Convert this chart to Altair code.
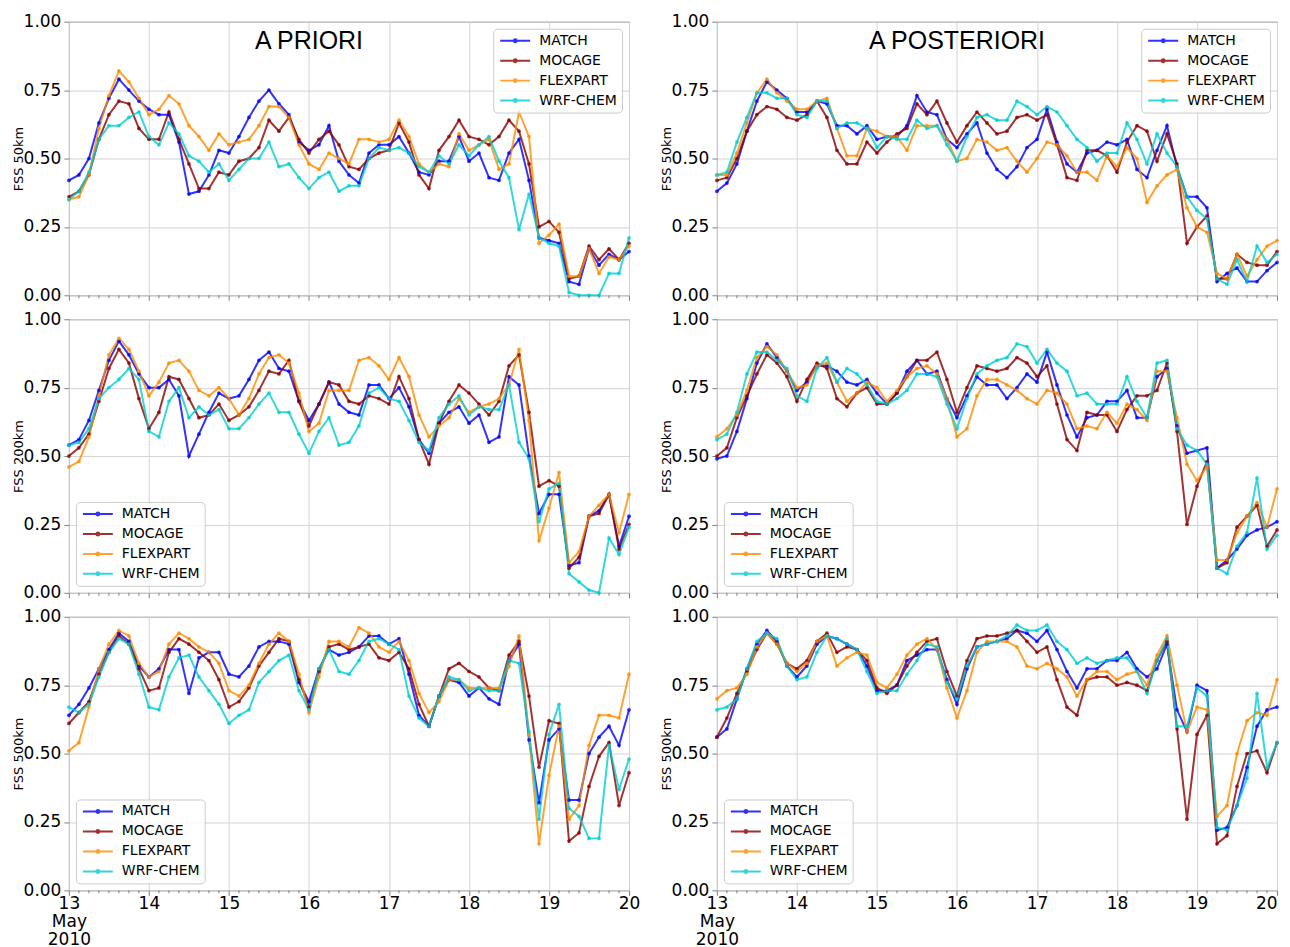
import altair as alt
import pandas as pd

MODELS = ["MATCH", "MOCAGE", "FLEXPART", "WRF-CHEM"]
COLORS = ["#0000ff", "#8b0000", "#ff8c00", "#00ced1"]
DAYS = list(range(13, 21))
TIMES = list(pd.date_range("2010-05-13 00:00", "2010-05-20 00:00", freq="3h"))

# ---- FSS 50km, A PRIORI ----
P50_PRI_MATCH = [0.42,0.44,0.50,0.63,0.72,0.79,0.75,0.71,0.68,0.66, 0.66,0.56,0.37,0.38,0.44,0.53,0.52,0.58,0.65,0.71,
                 0.75,0.70,0.66,0.56,0.53,0.55,0.62,0.49,0.44,0.41, 0.52,0.55,0.55,0.58,0.52,0.45,0.44,0.49,0.49,0.58,
                 0.49,0.52,0.43,0.42,0.52,0.57,0.42,0.21,0.20,0.19, 0.05,0.04,0.17,0.11,0.15,0.13,0.16]
P50_PRI_MOCAGE = [0.36,0.38,0.44,0.57,0.66,0.71,0.70,0.61,0.57,0.57, 0.67,0.57,0.48,0.39,0.39,0.45,0.44,0.49,0.50,0.54,
                  0.64,0.60,0.65,0.57,0.52,0.57,0.60,0.55,0.47,0.46, 0.50,0.52,0.53,0.63,0.56,0.44,0.39,0.53,0.58,0.64,
                  0.58,0.57,0.55,0.58,0.64,0.60,0.48,0.25,0.27,0.23, 0.06,0.07,0.18,0.13,0.17,0.13,0.19]
P50_PRI_FLEXPART = [0.35,0.36,0.44,0.61,0.73,0.82,0.78,0.72,0.66,0.68, 0.73,0.70,0.62,0.58,0.53,0.59,0.55,0.56,0.57,0.62,
                    0.69,0.69,0.65,0.55,0.48,0.46,0.52,0.50,0.48,0.57, 0.57,0.56,0.57,0.64,0.58,0.48,0.45,0.48,0.47,0.59,
                    0.53,0.55,0.57,0.46,0.48,0.67,0.58,0.19,0.22,0.26, 0.07,0.07,0.17,0.08,0.14,0.13,0.18]
P50_PRI_WRF = [0.35,0.38,0.45,0.57,0.62,0.62,0.65,0.67,0.58,0.55, 0.63,0.59,0.51,0.49,0.45,0.48,0.42,0.46,0.50,0.50,
               0.56,0.47,0.48,0.43,0.39,0.43,0.45,0.38,0.40,0.40, 0.50,0.54,0.53,0.54,0.52,0.47,0.45,0.51,0.48,0.55,
               0.51,0.55,0.58,0.49,0.43,0.24,0.37,0.21,0.19,0.18, 0.01,0.00,0.00,0.00,0.08,0.08,0.21]

# ---- FSS 50km, A POSTERIORI ----
P50_POST_MATCH = [0.38,0.41,0.48,0.60,0.71,0.78,0.75,0.72,0.67,0.67, 0.71,0.70,0.62,0.62,0.59,0.62,0.57,0.58,0.58,0.62,
                  0.73,0.67,0.66,0.57,0.54,0.59,0.63,0.52,0.46,0.43, 0.47,0.54,0.57,0.68,0.56,0.48,0.45,0.52,0.53,0.56,
                  0.55,0.57,0.46,0.43,0.53,0.62,0.47,0.36,0.36,0.32, 0.05,0.08,0.10,0.05,0.05,0.09,0.12]
P50_POST_MOCAGE = [0.42,0.43,0.50,0.60,0.66,0.69,0.68,0.65,0.64,0.66, 0.71,0.65,0.53,0.48,0.48,0.56,0.52,0.56,0.59,0.61,
                   0.70,0.66,0.71,0.63,0.56,0.62,0.67,0.63,0.59,0.60, 0.65,0.66,0.64,0.66,0.55,0.43,0.42,0.53,0.53,0.51,
                   0.45,0.56,0.62,0.60,0.49,0.59,0.48,0.19,0.25,0.29, 0.06,0.06,0.15,0.12,0.11,0.11,0.16]
P50_POST_FLEXPART = [0.44,0.44,0.52,0.63,0.74,0.79,0.74,0.71,0.68,0.68, 0.71,0.72,0.61,0.51,0.51,0.61,0.60,0.58,0.58,0.53,
                     0.62,0.62,0.62,0.57,0.49,0.50,0.57,0.56,0.53,0.54, 0.49,0.45,0.50,0.56,0.55,0.51,0.45,0.45,0.42,0.51,
                     0.47,0.54,0.50,0.34,0.40,0.44,0.46,0.32,0.25,0.23, 0.08,0.06,0.15,0.07,0.13,0.18,0.20]
P50_POST_WRF = [0.44,0.45,0.56,0.65,0.74,0.74,0.72,0.72,0.66,0.65, 0.71,0.71,0.61,0.63,0.63,0.61,0.54,0.58,0.57,0.57,
                0.64,0.61,0.62,0.55,0.49,0.58,0.65,0.66,0.64,0.64, 0.71,0.69,0.66,0.69,0.67,0.62,0.57,0.54,0.49,0.52,
                0.52,0.63,0.57,0.48,0.59,0.52,0.47,0.36,0.31,0.28, 0.06,0.04,0.13,0.05,0.18,0.12,0.15]

# ---- FSS 200km, A PRIORI ----
P200_PRI_MATCH = [0.54,0.56,0.63,0.74,0.85,0.92,0.87,0.80,0.75,0.75, 0.78,0.72,0.50,0.58,0.66,0.73,0.71,0.72,0.78,0.85,
                  0.88,0.82,0.81,0.70,0.63,0.69,0.77,0.69,0.66,0.65, 0.76,0.76,0.71,0.75,0.68,0.56,0.51,0.62,0.66,0.68,
                  0.62,0.65,0.55,0.57,0.79,0.76,0.50,0.29,0.36,0.36, 0.10,0.11,0.28,0.30,0.36,0.17,0.28]
P200_PRI_MOCAGE = [0.50,0.53,0.58,0.70,0.82,0.89,0.84,0.71,0.60,0.66, 0.79,0.78,0.71,0.64,0.65,0.69,0.63,0.65,0.68,0.74,
                   0.81,0.80,0.85,0.70,0.61,0.69,0.77,0.76,0.70,0.69, 0.72,0.71,0.69,0.79,0.71,0.56,0.47,0.62,0.70,0.76,
                   0.73,0.69,0.65,0.70,0.83,0.87,0.66,0.39,0.41,0.39, 0.09,0.13,0.28,0.29,0.36,0.16,0.25]
P200_PRI_FLEXPART = [0.46,0.48,0.57,0.72,0.87,0.93,0.89,0.81,0.72,0.77, 0.84,0.85,0.81,0.74,0.72,0.75,0.71,0.65,0.71,0.80,
                     0.86,0.87,0.84,0.73,0.59,0.62,0.74,0.74,0.74,0.85, 0.86,0.83,0.78,0.86,0.79,0.65,0.57,0.61,0.64,0.71,
                     0.66,0.68,0.69,0.71,0.76,0.89,0.63,0.19,0.31,0.44, 0.11,0.15,0.28,0.32,0.36,0.22,0.36]
P200_PRI_WRF = [0.54,0.55,0.60,0.71,0.75,0.78,0.82,0.78,0.59,0.57, 0.70,0.75,0.64,0.68,0.65,0.67,0.60,0.60,0.64,0.69,
                0.73,0.66,0.66,0.58,0.51,0.59,0.64,0.54,0.55,0.61, 0.73,0.75,0.71,0.70,0.63,0.55,0.52,0.64,0.69,0.72,
                0.65,0.68,0.67,0.67,0.76,0.55,0.49,0.26,0.38,0.40, 0.07,0.04,0.01,0.00,0.20,0.14,0.24]

# ---- FSS 200km, A POSTERIORI ----
P200_POST_MATCH = [0.49,0.50,0.59,0.71,0.84,0.91,0.86,0.81,0.74,0.77, 0.83,0.83,0.81,0.77,0.76,0.78,0.73,0.69,0.73,0.81,
                   0.85,0.80,0.81,0.71,0.64,0.72,0.79,0.76,0.76,0.71, 0.75,0.80,0.77,0.88,0.76,0.65,0.57,0.64,0.65,0.70,
                   0.70,0.74,0.64,0.64,0.79,0.82,0.61,0.51,0.52,0.53, 0.09,0.12,0.16,0.21,0.23,0.24,0.26]
P200_POST_MOCAGE = [0.50,0.53,0.64,0.72,0.80,0.87,0.84,0.79,0.70,0.78, 0.84,0.82,0.71,0.68,0.73,0.75,0.69,0.69,0.73,0.79,
                    0.85,0.85,0.88,0.78,0.66,0.75,0.83,0.82,0.81,0.82, 0.86,0.84,0.79,0.83,0.69,0.56,0.52,0.66,0.65,0.65,
                    0.59,0.67,0.72,0.72,0.74,0.84,0.59,0.25,0.39,0.48, 0.09,0.11,0.24,0.28,0.32,0.17,0.23]
P200_POST_FLEXPART = [0.57,0.60,0.65,0.74,0.86,0.90,0.87,0.81,0.75,0.76, 0.83,0.84,0.77,0.70,0.73,0.77,0.75,0.70,0.74,0.79,
                      0.82,0.83,0.80,0.71,0.57,0.60,0.72,0.78,0.78,0.76, 0.74,0.71,0.69,0.74,0.73,0.69,0.60,0.61,0.60,0.66,
                      0.62,0.69,0.67,0.63,0.81,0.81,0.64,0.47,0.41,0.46, 0.12,0.12,0.22,0.28,0.33,0.24,0.38]
P200_POST_WRF = [0.56,0.58,0.66,0.80,0.88,0.88,0.85,0.82,0.72,0.70, 0.82,0.86,0.77,0.82,0.80,0.76,0.70,0.69,0.71,0.74,
                 0.80,0.80,0.79,0.69,0.60,0.71,0.80,0.83,0.85,0.86, 0.91,0.90,0.84,0.89,0.84,0.81,0.72,0.73,0.69,0.69,
                 0.69,0.79,0.70,0.64,0.84,0.85,0.60,0.54,0.52,0.47, 0.09,0.07,0.17,0.22,0.42,0.16,0.21]

# ---- FSS 500km, A PRIORI ----
P500_PRI_MATCH = [0.64,0.68,0.74,0.81,0.88,0.94,0.91,0.82,0.78,0.81, 0.88,0.88,0.72,0.85,0.87,0.87,0.79,0.78,0.82,0.89,
                  0.91,0.91,0.90,0.76,0.69,0.81,0.88,0.86,0.87,0.89, 0.93,0.93,0.90,0.92,0.79,0.64,0.60,0.71,0.77,0.76,
                  0.71,0.74,0.70,0.68,0.84,0.90,0.55,0.32,0.55,0.59, 0.33,0.33,0.50,0.56,0.60,0.53,0.66]
P500_PRI_MOCAGE = [0.61,0.65,0.69,0.79,0.87,0.93,0.90,0.81,0.73,0.74, 0.87,0.92,0.90,0.87,0.84,0.77,0.67,0.69,0.74,0.82,
                   0.87,0.92,0.91,0.77,0.67,0.80,0.89,0.90,0.88,0.89, 0.90,0.85,0.84,0.87,0.81,0.68,0.60,0.71,0.81,0.83,
                   0.80,0.78,0.74,0.73,0.86,0.91,0.71,0.45,0.62,0.61, 0.18,0.21,0.38,0.49,0.54,0.31,0.43]
P500_PRI_FLEXPART = [0.51,0.54,0.67,0.81,0.90,0.95,0.93,0.83,0.78,0.80, 0.90,0.94,0.92,0.89,0.87,0.83,0.73,0.71,0.75,0.83,
                     0.90,0.94,0.91,0.79,0.65,0.78,0.91,0.91,0.89,0.96, 0.94,0.89,0.87,0.91,0.84,0.72,0.65,0.69,0.77,0.77,
                     0.74,0.74,0.74,0.74,0.82,0.93,0.57,0.17,0.42,0.60, 0.26,0.31,0.53,0.64,0.64,0.63,0.79]
P500_PRI_WRF = [0.67,0.65,0.68,0.78,0.87,0.92,0.90,0.79,0.67,0.66, 0.78,0.85,0.86,0.78,0.73,0.68,0.61,0.64,0.66,0.76,
                0.80,0.84,0.86,0.73,0.66,0.81,0.88,0.80,0.79,0.84, 0.91,0.92,0.90,0.88,0.71,0.63,0.60,0.71,0.78,0.77,
                0.73,0.74,0.73,0.73,0.84,0.83,0.58,0.26,0.57,0.68, 0.30,0.27,0.19,0.19,0.53,0.37,0.48]

# ---- FSS 500km, A POSTERIORI ----
P500_POST_MATCH = [0.56,0.59,0.70,0.81,0.90,0.95,0.91,0.82,0.78,0.82, 0.90,0.93,0.92,0.90,0.88,0.82,0.73,0.73,0.75,0.84,
                   0.86,0.88,0.88,0.77,0.68,0.81,0.89,0.90,0.91,0.92, 0.95,0.94,0.91,0.95,0.88,0.80,0.74,0.81,0.81,0.84,
                   0.84,0.87,0.81,0.78,0.81,0.90,0.66,0.58,0.75,0.73, 0.22,0.23,0.31,0.45,0.60,0.66,0.67]
P500_POST_MOCAGE = [0.56,0.63,0.72,0.80,0.88,0.94,0.90,0.83,0.81,0.84, 0.91,0.94,0.87,0.89,0.88,0.84,0.74,0.72,0.75,0.82,
                    0.87,0.91,0.92,0.80,0.71,0.84,0.92,0.93,0.93,0.94, 0.95,0.91,0.87,0.89,0.77,0.67,0.64,0.77,0.78,0.78,
                    0.75,0.76,0.75,0.73,0.84,0.91,0.59,0.26,0.57,0.64, 0.17,0.20,0.38,0.50,0.51,0.43,0.54]
P500_POST_FLEXPART = [0.70,0.73,0.74,0.79,0.89,0.94,0.90,0.83,0.80,0.83, 0.91,0.93,0.82,0.85,0.87,0.86,0.76,0.74,0.79,0.86,
                      0.90,0.92,0.88,0.74,0.63,0.73,0.87,0.91,0.91,0.91, 0.89,0.82,0.81,0.83,0.81,0.78,0.71,0.77,0.80,0.80,
                      0.77,0.79,0.80,0.75,0.86,0.93,0.75,0.58,0.67,0.66, 0.27,0.31,0.50,0.62,0.65,0.64,0.77]
P500_POST_WRF = [0.66,0.67,0.70,0.81,0.91,0.94,0.92,0.82,0.77,0.78, 0.87,0.93,0.92,0.90,0.88,0.80,0.72,0.73,0.73,0.79,
                 0.84,0.90,0.89,0.76,0.70,0.82,0.89,0.90,0.91,0.93, 0.97,0.95,0.95,0.97,0.91,0.88,0.83,0.85,0.83,0.84,
                 0.85,0.85,0.80,0.72,0.84,0.92,0.60,0.60,0.74,0.71, 0.23,0.22,0.31,0.41,0.72,0.45,0.54]

Y_TICKS = [0.0, 0.25, 0.5, 0.75, 1.0]
W, H = 561, 274
LEGEND_SYMBOL = "M-1,0L5,0M1.7,0A0.3,0.3 0 1,1 2.3,0A0.3,0.3 0 1,1 1.7,0"
GRAY = "#808080"
DAY_FMT = "timeFormat(datum.value, '%d')"


def make_panel(series, ytitle, legend_orient, title_text=None, bottom=False, last_right=False):
    recs = []
    for m, vals in zip(MODELS, series):
        for t, v in zip(TIMES, vals):
            recs.append({"time": t, "model": m, "fss": v})
    df = pd.DataFrame(recs)

    day_ticks = [alt.DateTime(year=2010, month=5, date=d) for d in DAYS]
    xaxis_kw = dict(
        values=day_ticks, title=None, grid=True, labels=bottom, ticks=True, tickSize=5,
        labelExpr=DAY_FMT + " == '13' ? ['13', 'May', '2010'] : " + DAY_FMT,
        labelFlush=False, labelOverlap=False, labelPadding=0, labelLineHeight=18,
    )
    if last_right:
        xaxis_kw["labelAlign"] = {"condition": {"test": DAY_FMT + " == '20'", "value": "right"}, "value": "center"}
    xaxis = alt.Axis(**xaxis_kw)
    yaxis = alt.Axis(
        values=Y_TICKS, format=".2f", title=ytitle, grid=True, tickSize=5, labelPadding=3,
        titleX=-46, titleY=H / 2, titleAngle=-90, titleAlign="center", titleBaseline="alphabetic",
        labelFlush=False, labelOverlap=False,
    )
    x = alt.X("time:T", axis=xaxis,
              scale=alt.Scale(domain=[alt.DateTime(year=2010, month=5, date=13),
                                      alt.DateTime(year=2010, month=5, date=20)]))
    y = alt.Y("fss:Q", axis=yaxis, scale=alt.Scale(domain=[0, 1], nice=False, zero=False))

    legend = alt.Legend(
        title=None, orient=legend_orient, offset=7, symbolType=LEGEND_SYMBOL, symbolSize=100,
        symbolStrokeWidth=2, symbolOpacity=0.8, labelFontSize=14, labelFont="DejaVu Sans", labelColor="black",
        labelOffset=27, rowPadding=6, padding=5, fillColor="rgba(255,255,255,0.8)",
        strokeColor="#cccccc", cornerRadius=4,
    )
    lines = alt.Chart(df).mark_line(
        strokeWidth=2, opacity=0.8,
        point=alt.OverlayMarkDef(filled=True, size=14, opacity=0.8),
    ).encode(
        x=x, y=y,
        color=alt.Color("model:N", scale=alt.Scale(domain=MODELS, range=COLORS), legend=legend),
    )

    minor_df = pd.DataFrame({"time": [t for t in TIMES if t.hour != 0]})
    minor = alt.Chart(minor_df).mark_rule(color=GRAY, strokeWidth=1).encode(
        x="time:T", y=alt.value(H), y2=alt.value(H + 3)
    )
    layers = [lines, minor]
    if title_text:
        tdf = pd.DataFrame({"time": [pd.Timestamp("2010-05-16 00:00")], "fss": [0.9], "label": [title_text]})
        layers.append(
            alt.Chart(tdf).mark_text(font="Liberation Sans", fontSize=25, align="center",
                                     baseline="alphabetic", color="black").encode(
                x="time:T", y="fss:Q", text="label:N")
        )
    return alt.layer(*layers).properties(width=W, height=H)


p1 = make_panel([P50_PRI_MATCH, P50_PRI_MOCAGE, P50_PRI_FLEXPART, P50_PRI_WRF], "FSS 50km", "top-right", "A PRIORI")
p2 = make_panel([P50_POST_MATCH, P50_POST_MOCAGE, P50_POST_FLEXPART, P50_POST_WRF], "FSS 50km", "top-right", "A POSTERIORI")
p3 = make_panel([P200_PRI_MATCH, P200_PRI_MOCAGE, P200_PRI_FLEXPART, P200_PRI_WRF], "FSS 200km", "bottom-left")
p4 = make_panel([P200_POST_MATCH, P200_POST_MOCAGE, P200_POST_FLEXPART, P200_POST_WRF], "FSS 200km", "bottom-left")
p5 = make_panel([P500_PRI_MATCH, P500_PRI_MOCAGE, P500_PRI_FLEXPART, P500_PRI_WRF], "FSS 500km", "bottom-left", bottom=True)
p6 = make_panel([P500_POST_MATCH, P500_POST_MOCAGE, P500_POST_FLEXPART, P500_POST_WRF], "FSS 500km", "bottom-left",
                bottom=True, last_right=True)

chart = alt.concat(
    p1, p2, p3, p4, p5, p6, columns=2, spacing={"row": 24, "column": 88}, bounds="flush"
).resolve_legend(color="independent").properties(
    padding={"left": 4, "top": 3, "right": 0, "bottom": 0}
).configure_view(
    stroke=GRAY, strokeWidth=1
).configure_axis(
    labelFont="DejaVu Sans", labelFontSize=17, labelColor="black",
    titleFont="DejaVu Sans", titleFontSize=13, titleFontWeight="normal", titleColor="black",
    tickColor=GRAY, domain=False, gridColor="#d3d3d3", gridWidth=1,
)

chart.save("out.html", embed_options={"renderer": "svg", "actions": False})
